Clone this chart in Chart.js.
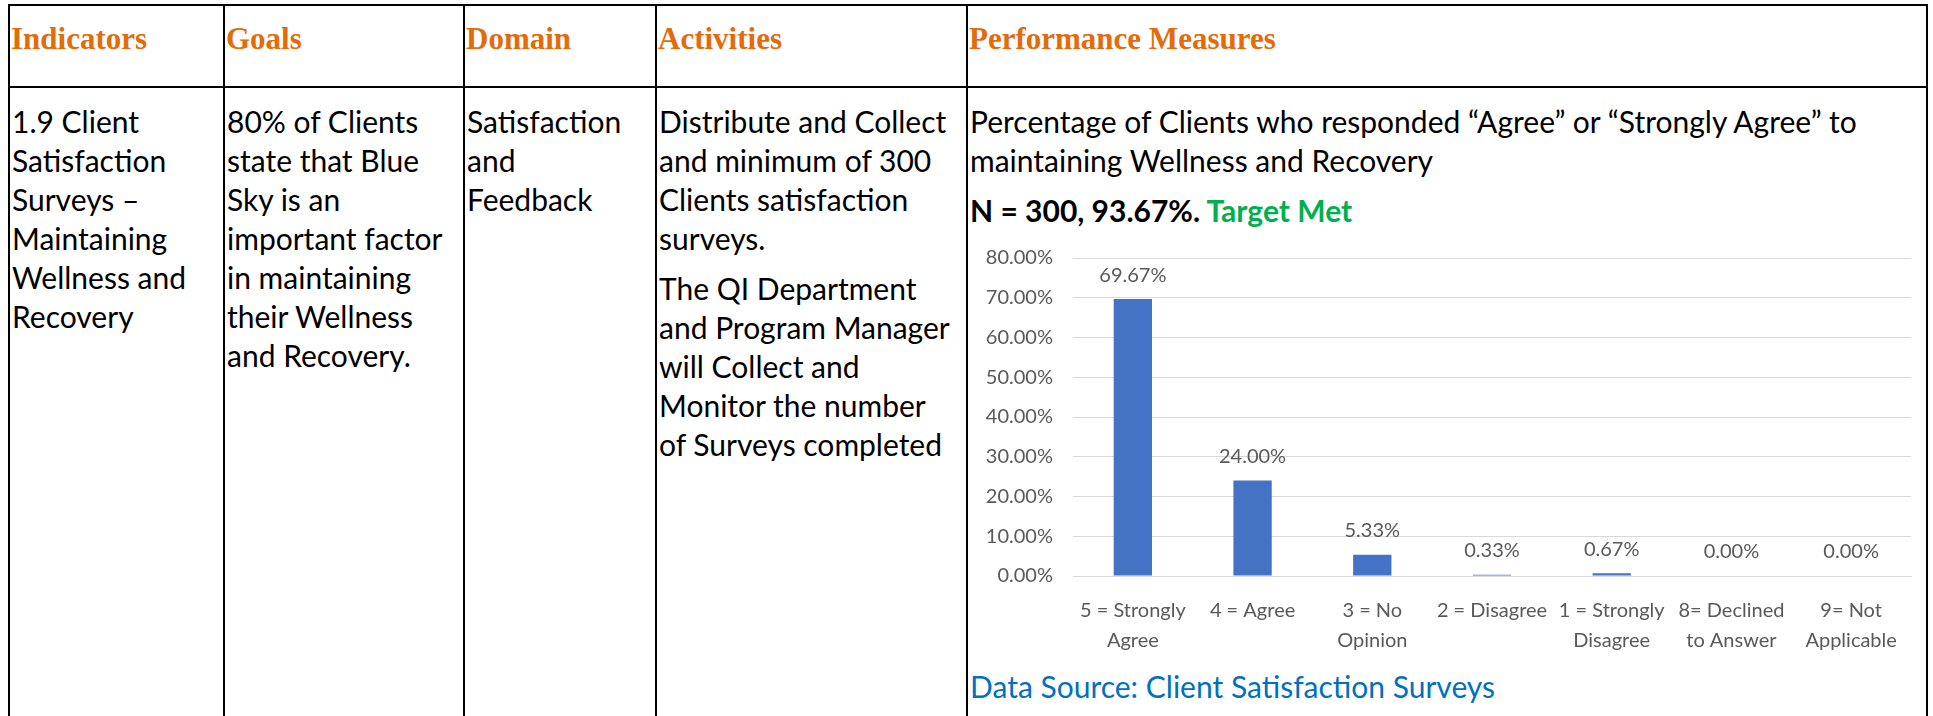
<!DOCTYPE html>
<html>
<head>
<meta charset="utf-8">
<title>Client Satisfaction Surveys - Maintaining Wellness and Recovery</title>
<script src="https://cdn.jsdelivr.net/npm/chart.js@4.4.1/dist/chart.umd.min.js"></script>
<style>
  html, body { margin: 0; padding: 0; background: #fff; overflow: hidden; }
  body { width: 1933px; height: 716px; position: relative; }
  table {
    position: absolute; left: 8px; top: 4px;
    border-collapse: collapse; table-layout: fixed; width: 1920px;
  }
  th, td { border: 2px solid #000; vertical-align: top; text-align: left; box-sizing: border-box; }
  th {
    height: 82px; padding: 15px 1px 0 1px;
    font-family: "Liberation Serif", serif; font-weight: bold; font-size: 31px;
    color: #e36c0a;
  }
  td {
    height: 640px; padding: 14px 2px 0 2px;
    font-family: Lato, sans-serif; font-size: 30px; line-height: 39px; color: #000;
  }
  td p { margin: 0 0 11px 0; }
  .bold { font-weight: bold; }
  .met { color: #00b050; }
  .chartbox { position: relative; width: 100%; height: 430px; margin-top: -4px; }
  .source { color: #0070c0; margin-top: 11px; }
</style>
</head>
<body>
<table>
  <colgroup>
    <col style="width:215px">
    <col style="width:240px">
    <col style="width:192px">
    <col style="width:311px">
    <col style="width:960px">
  </colgroup>
  <tr>
    <th>Indicators</th>
    <th>Goals</th>
    <th>Domain</th>
    <th>Activities</th>
    <th>Performance Measures</th>
  </tr>
  <tr>
    <td>1.9 Client<br>Satisfaction<br>Surveys –<br>Maintaining<br>Wellness and<br>Recovery</td>
    <td>80% of Clients<br>state that Blue<br>Sky is an<br>important factor<br>in maintaining<br>their Wellness<br>and Recovery.</td>
    <td>Satisfaction<br>and<br>Feedback</td>
    <td>
      <p>Distribute and Collect<br>and minimum of 300<br>Clients satisfaction<br>surveys.</p>
      <p>The QI Department<br>and Program Manager<br>will Collect and<br>Monitor the number<br>of Surveys completed</p>
    </td>
    <td>
      <p>Percentage of Clients who responded “Agree” or “Strongly Agree” to<br>maintaining Wellness and Recovery</p>
      <p class="bold" style="margin:0">N = 300, 93.67%. <span class="met">Target Met</span></p>
      <div class="chartbox"><canvas id="myChart"></canvas></div>
      <div class="source">Data Source: Client Satisfaction Surveys</div>
    </td>
  </tr>
</table>

<script>
// survey answers and the share of clients for each (percent)
const answers = [
  ['5 = Strongly', 'Agree'],
  '4 = Agree',
  ['3 = No', 'Opinion'],
  '2 = Disagree',
  ['1 = Strongly', 'Disagree'],
  ['8= Declined', 'to Answer'],
  ['9= Not', 'Applicable']
];
const shares = [69.67, 24.00, 5.33, 0.33, 0.67, 0.00, 0.00];

// y axis goes 0% .. 80% in steps of 10
const yMin = 0;
const yMax = 80;
const yStep = 10;

Chart.defaults.font.family = 'Lato, sans-serif';
Chart.defaults.color = '#595959';

// draws the value above each bar, like the excel data labels
const barLabels = {
  id: 'barLabels',
  afterDatasetsDraw(chart) {
    const ctx = chart.ctx;
    const meta = chart.getDatasetMeta(0);
    ctx.save();
    ctx.font = '20px Lato, sans-serif';
    ctx.fillStyle = '#595959';
    ctx.textAlign = 'center';
    ctx.textBaseline = 'middle';
    meta.data.forEach((bar, i) => {
      ctx.fillText(shares[i].toFixed(2) + '%', bar.x, bar.y - 24);
    });
    ctx.restore();
  }
};

const ctx = document.getElementById('myChart').getContext('2d');
new Chart(ctx, {
  type: 'bar',
  data: {
    labels: answers,
    datasets: [{
      label: 'Percentage',
      data: shares,
      backgroundColor: '#4472c4',
      borderWidth: 0,
      barPercentage: 0.32,
      categoryPercentage: 1
    }]
  },
  options: {
    responsive: true,
    maintainAspectRatio: false,
    animation: false,
    layout: { padding: { top: 27, right: 13, bottom: 0, left: 0 } },
    plugins: {
      legend: { display: false },
      tooltip: { enabled: false }
    },
    scales: {
      y: {
        min: yMin,
        max: yMax,
        ticks: {
          stepSize: yStep,
          padding: 20,
          font: { size: 20 },
          color: '#595959',
          callback: (value) => value.toFixed(2) + '%'
        },
        grid: { color: '#d9d9d9', lineWidth: 1, drawTicks: false },
        border: { display: false },
        afterFit: (scale) => { scale.width = 103; }
      },
      x: {
        ticks: {
          padding: 20,
          font: { size: 20, lineHeight: 1.5 },
          color: '#595959',
          maxRotation: 0,
          autoSkip: false
        },
        grid: { display: false, drawTicks: false },
        border: { display: true, color: '#d9d9d9', width: 1 },
        afterFit: (scale) => { scale.height = 80; }
      }
    }
  },
  plugins: [barLabels]
});
</script>
</body>
</html>
